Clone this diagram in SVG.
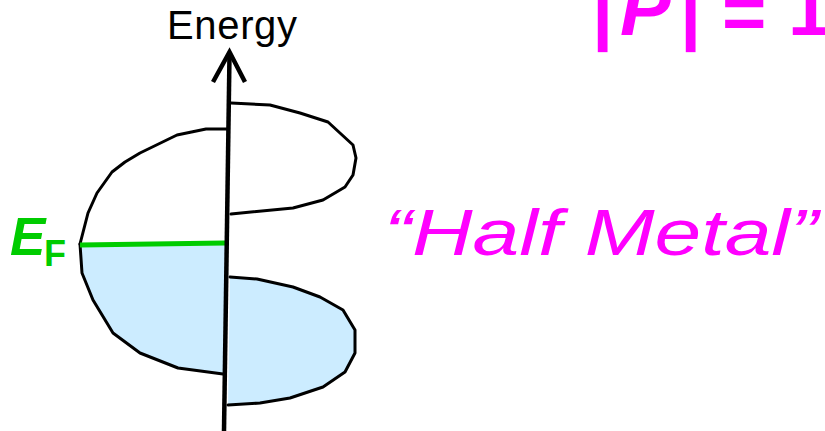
<svg xmlns="http://www.w3.org/2000/svg" width="825" height="431" viewBox="0 0 825 431">
<style>
.curve{fill:none;stroke:#000;stroke-width:3;stroke-linejoin:round;stroke-linecap:round}
.fill{fill:#CCECFF;stroke:none}
.mag{fill:#FF00FF;font-family:"Liberation Sans",Arial,sans-serif}
.grn{fill:#00CC00;font-family:"Liberation Sans",Arial,sans-serif;font-weight:bold}
</style>
<rect width="825" height="431" fill="#fff"/>
<g id="dos-lower-left">
<polygon class="fill" points="80,244 82,273 93,300 113,333 140,353 178,368 223,374 225,243"/>
<polyline class="curve" points="80,244 82,273 93,300 113,333 140,353 178,368 223,374"/>
</g>
<g id="dos-lower-right">
<polygon class="fill" points="230,277 257,279 293,287 320,297 343,310 355,330 355,353 345,372 323,387 290,398 260,403 228,405"/>
<polyline class="curve" points="230,277 257,279 293,287 320,297 343,310 355,330 355,353 345,372 323,387 290,398 260,403 228,405"/>
</g>
<g id="dos-upper-left">
<polyline class="curve" points="227,129 206,129 177,135 140,153 125,162 112,172 97,193 88,213 80,244"/>
</g>
<g id="dos-upper-right">
<polyline class="curve" points="231,103 270,105 300,113 328,122 353,145 356,158 353,175 345,187 323,200 293,208 231,214"/>
</g>
<g id="fermi-level">
<line x1="80" y1="245" x2="225" y2="243" stroke="#00CC00" stroke-width="5"/>
<text class="grn" x="10" y="255" font-size="53" font-style="italic">E</text>
<text class="grn" x="44" y="266" font-size="36">F</text>
</g>
<g id="energy-axis">
<line x1="224" y1="431" x2="229.5" y2="55" stroke="#000" stroke-width="4.5"/>
<polyline points="213,82 229.5,52 245,82" fill="none" stroke="#000" stroke-width="4.5" stroke-linejoin="miter"/>
<text x="167" y="39" font-size="40" font-family="Liberation Sans,Arial,sans-serif" fill="#000" textLength="130" lengthAdjust="spacing">Energy</text>
</g>
<g id="polarization">
<text class="mag" y="35" font-size="76" font-weight="bold"><tspan x="592">|</tspan><tspan x="620" font-style="italic">P</tspan><tspan x="680">|</tspan><tspan x="722" dy="4">=</tspan><tspan x="788" dy="-4">1</tspan></text>
</g>
<g id="half-metal">
<text class="mag" x="384" y="255" font-size="65" font-style="italic" textLength="434" lengthAdjust="spacingAndGlyphs">“Half Metal”</text>
</g>
</svg>
